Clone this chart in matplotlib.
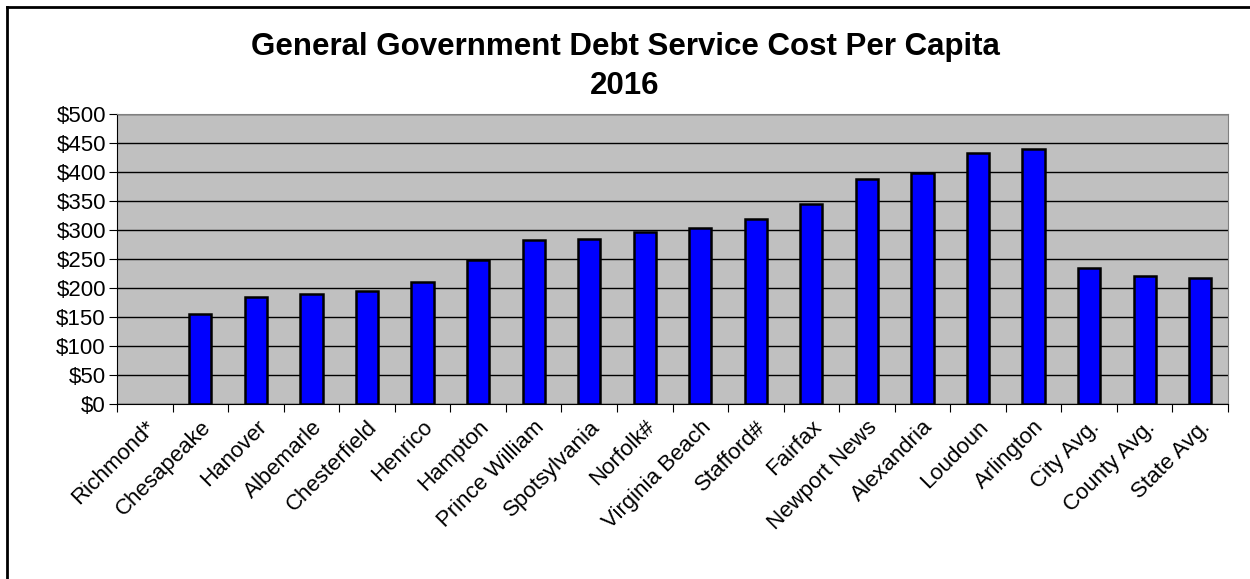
import matplotlib
matplotlib.use("Agg")
import matplotlib.pyplot as plt
import numpy as np
from matplotlib.lines import Line2D

plt.rcParams['font.family'] = ['Liberation Sans', 'DejaVu Sans']

# data
localities = ["Richmond*", "Chesapeake", "Hanover", "Albemarle", "Chesterfield",
              "Henrico", "Hampton", "Prince William", "Spotsylvania", "Norfolk#",
              "Virginia Beach", "Stafford#", "Fairfax", "Newport News", "Alexandria",
              "Loudoun", "Arlington", "City Avg.", "County Avg.", "State Avg."]
cost = [0, 155, 184, 189, 195, 210, 249, 282, 284, 297,
        303, 319, 345, 388, 398, 432, 439, 235, 220, 217]
yticks = [0, 50, 100, 150, 200, 250, 300, 350, 400, 450, 500]

fig = plt.figure(figsize=(12.5, 5.79), dpi=100)
ax = fig.add_axes([117/1250, 1 - 404/579, (1228-117)/1250, (404-114)/579])

x = np.arange(len(localities))
ax.set_facecolor('#C0C0C0')
lw = [0 if v == 0 else 1.8 for v in cost]
ax.bar(x, cost, width=0.4, color='#0000FF', edgecolor='black', linewidth=lw, zorder=3)

ax.set_ylim(0, 500)
ax.set_xlim(-0.5, len(localities) - 0.5)
ax.set_yticks(yticks)
ax.set_yticklabels(['$%d' % v for v in yticks], fontsize=16)
ax.yaxis.grid(True, color='black', linewidth=1.0, zorder=1)
ax.set_axisbelow(True)

# category ticks sit between the bars
ax.set_xticks(np.arange(len(localities) + 1) - 0.5)
ax.set_xticklabels([])
ax.set_xticks(x, minor=True)
ax.set_xticklabels(localities, minor=True, rotation=45, ha='right',
                   rotation_mode='anchor', fontsize=16)
ax.tick_params(axis='x', which='minor', length=0, pad=9)
ax.tick_params(axis='x', which='major', length=6, direction='out')
ax.tick_params(axis='y', length=6, direction='out', pad=2)

for s in ['top', 'right']:
    ax.spines[s].set_color('#808080')
for s in ['left', 'bottom']:
    ax.spines[s].set_color('black')

fig.text(0.5, 1 - 47/579, "General Government Debt Service Cost Per Capita",
         ha='center', va='center', fontsize=22.5, fontweight='bold')
fig.text(0.5, 1 - 86/579, "2016",
         ha='center', va='center', fontsize=22.5, fontweight='bold')

# outer frame: only top and left edges show
bx, by = 6.5/1250, 1 - 6.5/579
fig.lines.append(Line2D([bx, 1], [by, by], transform=fig.transFigure,
                        color='black', linewidth=2))
fig.lines.append(Line2D([bx, bx], [0, by], transform=fig.transFigure,
                        color='black', linewidth=2))

fig.savefig("out.png", dpi=100)
